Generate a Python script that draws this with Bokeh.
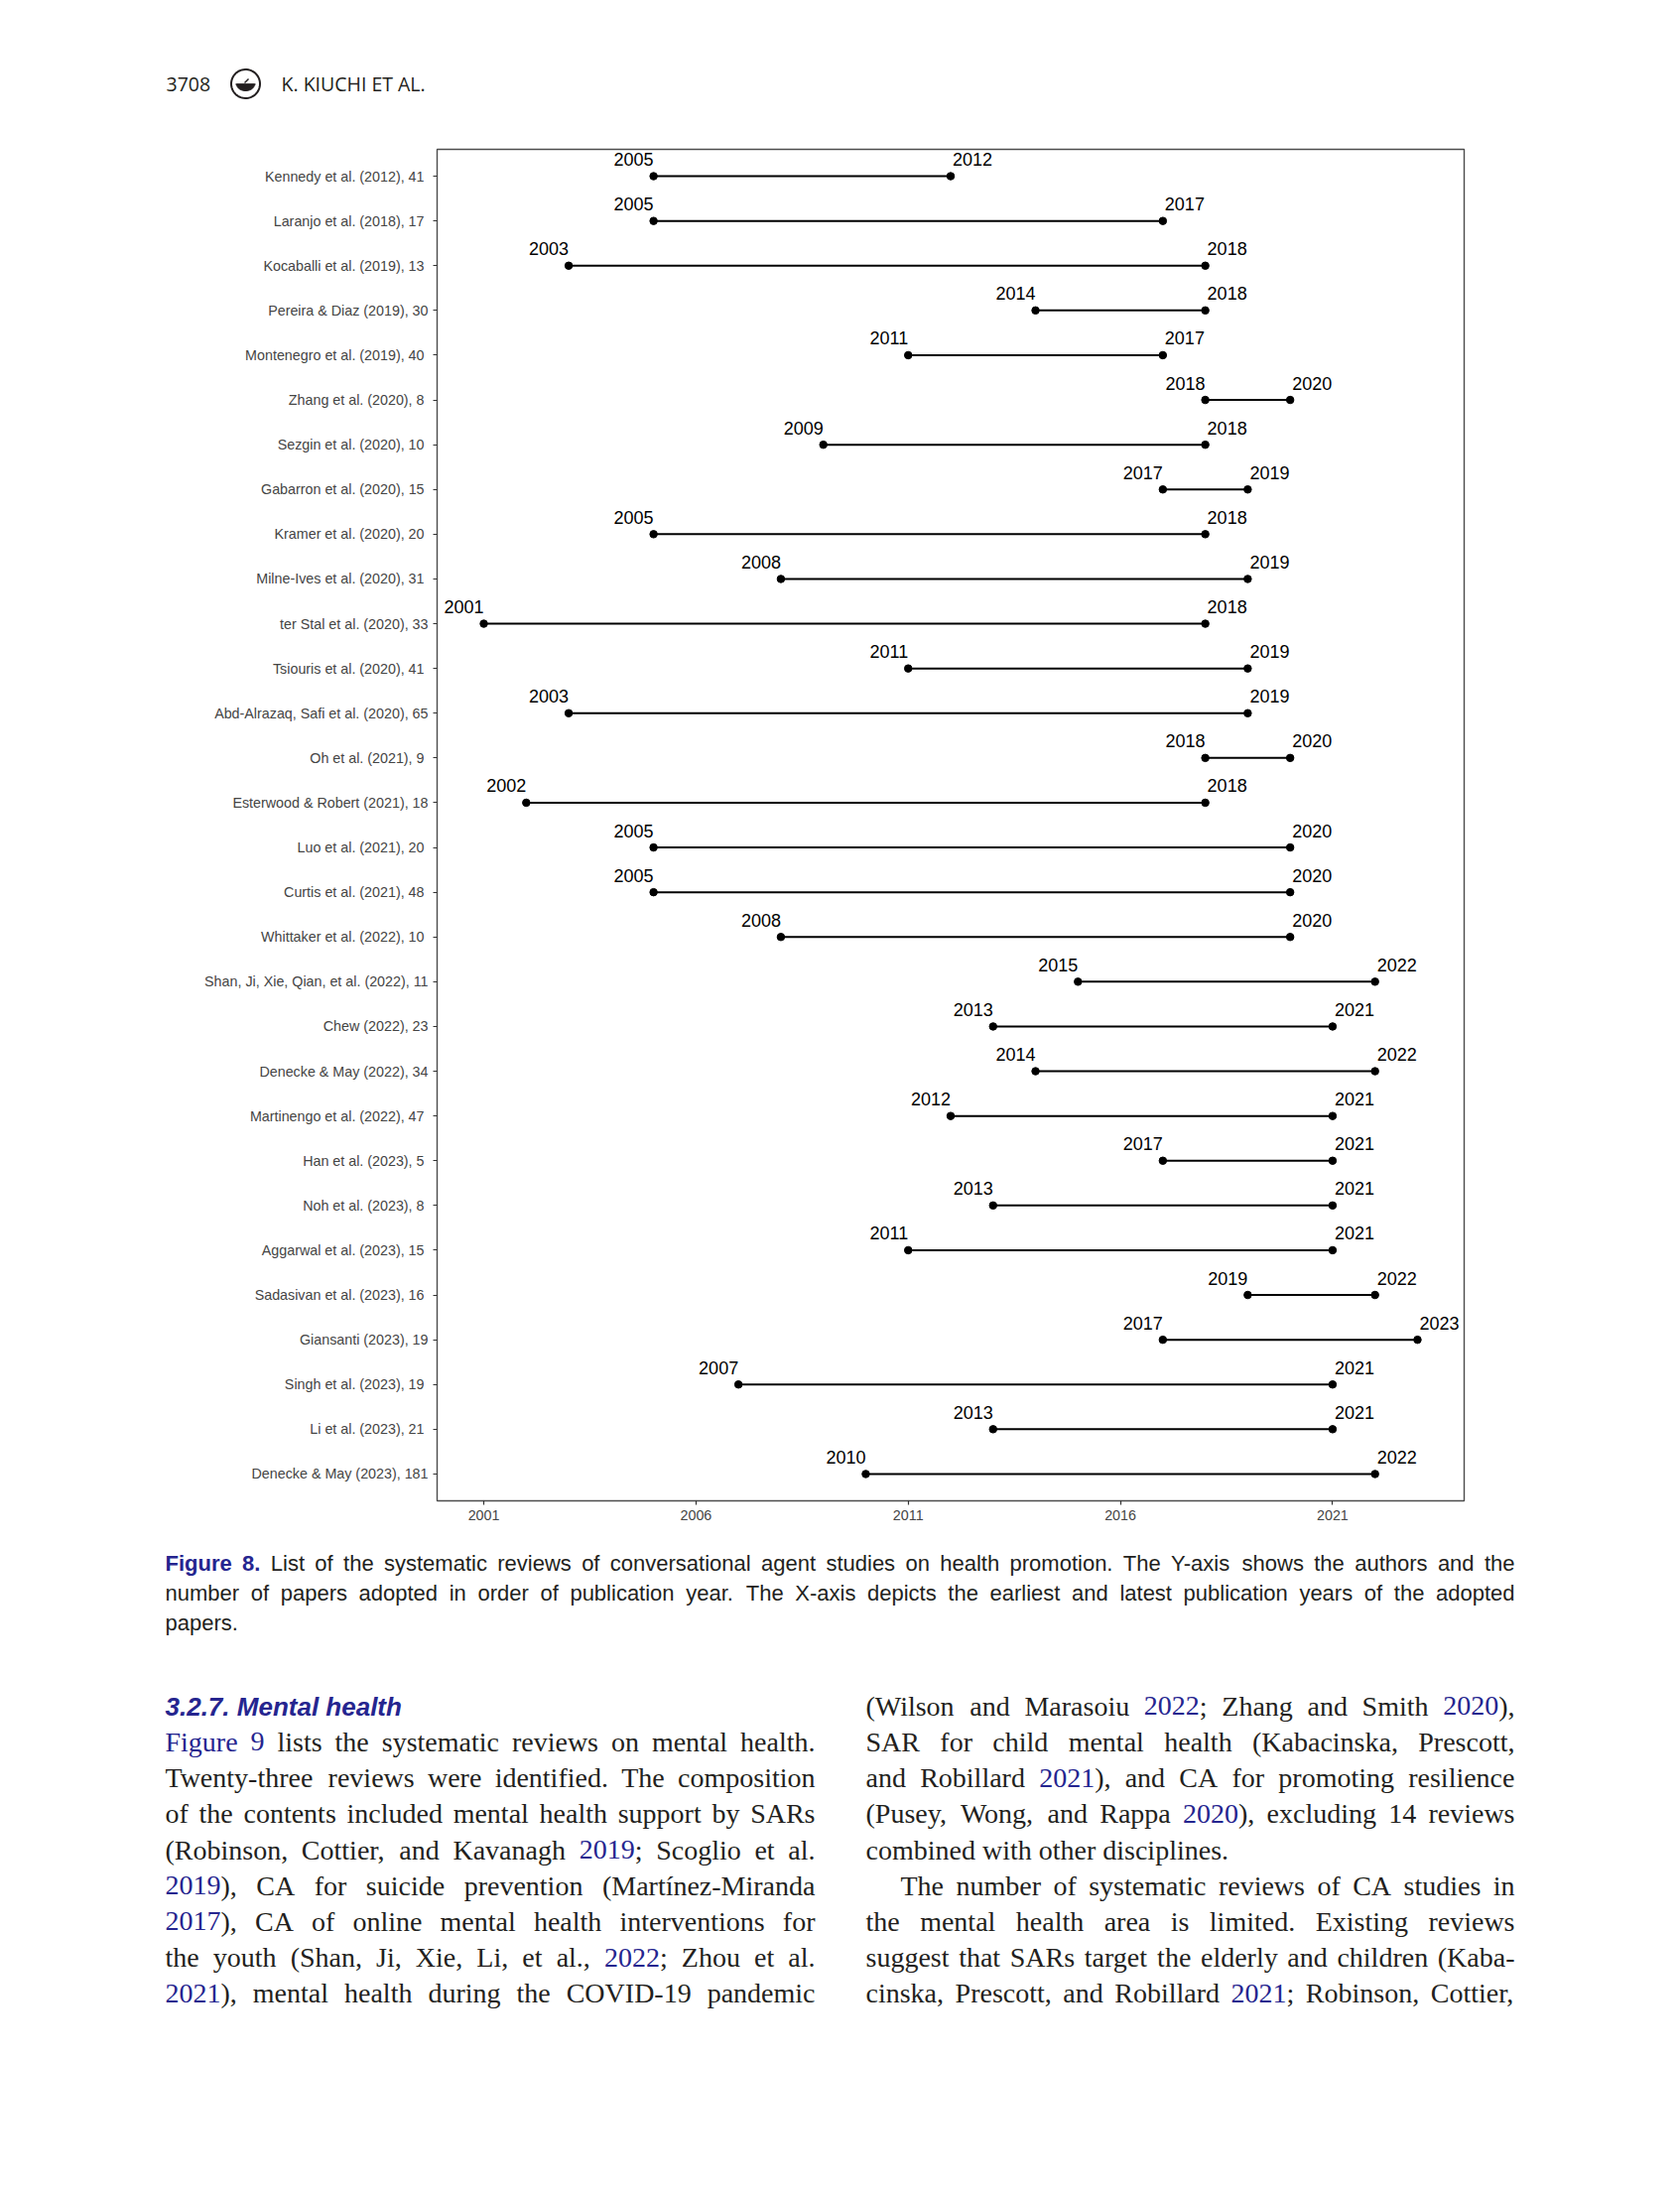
import numpy as np
from bokeh.plotting import figure
from bokeh.models import Range1d, FixedTicker, ColumnDataSource
from bokeh.embed import file_html
from bokeh.resources import INLINE
from bokeh.core.properties import value

# ---------------- data ----------------
LABELS = [
    "Kennedy  et al. (2012), 41",
    "Laranjo  et al. (2018), 17",
    "Kocaballi  et al. (2019), 13",
    "Pereira & Diaz (2019), 30",
    "Montenegro  et al. (2019), 40",
    "Zhang  et al. (2020), 8",
    "Sezgin  et al. (2020), 10",
    "Gabarron  et al. (2020), 15",
    "Kramer  et al. (2020), 20",
    "Milne-Ives  et al. (2020), 31",
    "ter Stal et al. (2020), 33",
    "Tsiouris  et al. (2020), 41",
    "Abd-Alrazaq, Safi et al. (2020), 65",
    "Oh  et al. (2021), 9",
    "Esterwood & Robert (2021), 18",
    "Luo  et al. (2021), 20",
    "Curtis  et al. (2021), 48",
    "Whittaker  et al. (2022), 10",
    "Shan, Ji, Xie, Qian, et al. (2022), 11",
    "Chew (2022), 23",
    "Denecke & May (2022), 34",
    "Martinengo  et al. (2022), 47",
    "Han  et al. (2023), 5",
    "Noh  et al. (2023), 8",
    "Aggarwal  et al. (2023), 15",
    "Sadasivan  et al. (2023), 16",
    "Giansanti (2023), 19",
    "Singh  et al. (2023), 19",
    "Li  et al. (2023), 21",
    "Denecke & May (2023), 181",
]
START = [2005, 2005, 2003, 2014, 2011, 2018, 2009, 2017, 2005, 2008,
         2001, 2011, 2003, 2018, 2002, 2005, 2005, 2008, 2015, 2013,
         2014, 2012, 2017, 2013, 2011, 2019, 2017, 2007, 2013, 2010]
END = [2012, 2017, 2018, 2018, 2017, 2020, 2018, 2019, 2018, 2019,
       2018, 2019, 2019, 2020, 2018, 2020, 2020, 2020, 2022, 2021,
       2022, 2021, 2021, 2021, 2021, 2022, 2023, 2021, 2021, 2022]
XTICKS = [2001, 2006, 2011, 2016, 2021]

HEADER_PAGE = "3708"
HEADER_AUTH = "K. KIUCHI ET AL."
CAPTION = [
    ("[Figure 8.] List of the systematic reviews of conversational agent studies on health promotion. The Y-axis shows the authors and the", True),
    ("number of papers adopted in order of publication year. The X-axis depicts the earliest and latest publication years of the adopted", True),
    ("papers.", False),
]
HEADING = "3.2.7. Mental health"
LEFT_COL = [
    ("{Figure 9} lists the systematic reviews on mental health.", True, 0),
    ("Twenty-three reviews were identified. The composition", True, 0),
    ("of the contents included mental health support by SARs", True, 0),
    ("(Robinson, Cottier, and Kavanagh {2019}; Scoglio et al.", True, 0),
    ("{2019}), CA for suicide prevention (Martínez-Miranda", True, 0),
    ("{2017}), CA of online mental health interventions for", True, 0),
    ("the youth (Shan, Ji, Xie, Li, et al., {2022}; Zhou et al.", True, 0),
    ("{2021}), mental health during the COVID-19 pandemic", True, 0),
]
RIGHT_COL = [
    ("(Wilson and Marasoiu {2022}; Zhang and Smith {2020}),", True, 0),
    ("SAR for child mental health (Kabacinska, Prescott,", True, 0),
    ("and Robillard {2021}), and CA for promoting resilience", True, 0),
    ("(Pusey, Wong, and Rappa {2020}), excluding 14 reviews", True, 0),
    ("combined with other disciplines.", False, 0),
    ("The number of systematic reviews of CA studies in", True, 35),
    ("the mental health area is limited. Existing reviews", True, 0),
    ("suggest that SARs target the elderly and children (Kaba-", True, 0),
    ("cinska, Prescott, and Robillard {2021}; Robinson, Cottier,", True, 0),
]

# ---------------- font metrics (per 1000 em) ----------------
TIMES = {' ': 250, '(': 333, ')': 333, ',': 250, '-': 333, '.': 250, ';': 278, ':': 278, 'í': 278}
for c in "0123456789":
    TIMES[c] = 500
TIMES.update(dict(zip("ABCDEFGHIJKLMNOPQRSTUVWXYZ",
                      [722, 667, 667, 722, 611, 556, 722, 722, 333, 389, 722, 611, 889,
                       722, 722, 556, 722, 667, 556, 611, 722, 722, 944, 722, 722, 611])))
TIMES.update(dict(zip("abcdefghijklmnopqrstuvwxyz",
                      [444, 500, 444, 500, 444, 333, 500, 500, 278, 278, 500, 278, 778,
                       500, 500, 500, 500, 333, 389, 278, 500, 500, 722, 500, 500, 444])))
HELV = {' ': 278, '(': 333, ')': 333, ',': 278, '-': 333, '.': 278, ';': 278, ':': 278}
for c in "0123456789":
    HELV[c] = 556
HELV.update(dict(zip("ABCDEFGHIJKLMNOPQRSTUVWXYZ",
                     [667, 667, 722, 722, 667, 611, 778, 722, 278, 500, 667, 556, 833,
                      722, 778, 667, 778, 722, 667, 611, 722, 667, 944, 667, 667, 611])))
HELV.update(dict(zip("abcdefghijklmnopqrstuvwxyz",
                     [556, 556, 500, 556, 556, 278, 556, 556, 222, 222, 500, 222, 833,
                      556, 556, 556, 556, 333, 500, 278, 556, 500, 722, 500, 500, 500])))
HELV_B = dict(HELV)
HELV_B.update({'F': 611, 'i': 278, 'g': 611, 'u': 611, 'r': 389, 'e': 556, '8': 556, '.': 278, ' ': 278})

INK = "#231f20"
BLUE = "#25258f"
LIFT = 0.33   # baseline correction, in em


def parse(line):
    """Return list of words; each word is list of (text, style)."""
    words, cur, seg, style = [], [], "", "n"
    for ch in line:
        if ch in "{[":
            if seg:
                cur.append((seg, style))
            seg = ""
            style = "b" if ch == "{" else "fb"
        elif ch in "}]":
            if seg:
                cur.append((seg, style))
            seg = ""
            style = "n"
        elif ch == " ":
            if seg:
                cur.append((seg, style))
            seg = ""
            if cur:
                words.append(cur)
            cur = []
        else:
            seg += ch
    if seg:
        cur.append((seg, style))
    if cur:
        words.append(cur)
    return words


def layout_line(line, x0, width, y, size, table, btable, justify, out):
    words = parse(line)

    def w_of(seg, st):
        tb = btable if st == "fb" else table
        return sum(tb.get(c, 500) for c in seg) * size / 1000.0
    wws = [sum(w_of(s, st) for s, st in w) for w in words]
    space = table[' '] * size / 1000.0
    if justify and len(words) > 1:
        gap = (width - sum(wws)) / (len(words) - 1)
    else:
        gap = space
    x = x0
    for w, ww in zip(words, wws):
        xs = x
        for s, st in w:
            out.setdefault(st, {"x": [], "y": [], "t": []})
            out[st]["x"].append(xs)
            out[st]["y"].append(y - LIFT * size)
            out[st]["t"].append(s)
            xs += w_of(s, st)
        x += ww + gap


# ---------------- chart (one figure = the whole page) ----------------
W, H = 1693, 2205
FL, FR, FT, FB = 440, 1475, 150, 1512   # panel edges on the page

n = len(LABELS)
rows = list(range(n))
src = ColumnDataSource(dict(
    row=rows, start=START, end=END,
    lab_y=[r_ - 0.377 for r_ in rows],
    s_lbl=[str(v) for v in START], e_lbl=[str(v) for v in END],
))
p = figure(width=W, height=H, x_range=Range1d(1999.9, 2024.1), y_range=Range1d(n - 1 + 0.6, -0.6),
           toolbar_location=None, output_backend="svg",
           min_border_left=FL, min_border_right=W - FR, min_border_top=FT, min_border_bottom=H - FB)
p.background_fill_color = "white"
p.border_fill_color = "white"
p.outline_line_color = "#4d4d4d"
p.outline_line_width = 1.4
p.xgrid.visible = False
p.ygrid.visible = False
p.segment(x0="start", y0="row", x1="end", y1="row", source=src, line_color="black", line_width=2)
p.scatter(x="start", y="row", source=src, size=7.5, color="black")
p.scatter(x="end", y="row", source=src, size=7.5, color="black")
p.text(x="start", y="lab_y", text="s_lbl", source=src, text_align="right", text_baseline="alphabetic",
       text_font=value("Liberation Sans"), text_font_size="18px", text_color="black")
p.text(x="end", y="lab_y", text="e_lbl", source=src, text_align="left", text_baseline="alphabetic",
       text_font=value("Liberation Sans"), text_font_size="18px", text_color="black", x_offset=2)

p.xaxis.ticker = FixedTicker(ticks=XTICKS)
p.xaxis.major_label_overrides = {v: str(v) for v in XTICKS}
p.yaxis.ticker = FixedTicker(ticks=rows)
p.yaxis.major_label_overrides = {i: lab for i, lab in enumerate(LABELS)}
for ax in (p.xaxis, p.yaxis):
    ax.major_label_text_font = "Liberation Sans"
    ax.major_label_text_font_size = "14.3px"
    ax.major_label_text_color = "#454545"
    ax.major_tick_out = 4
    ax.major_tick_in = 0
    ax.major_tick_line_color = "#333333"
    ax.major_tick_line_width = 1.2
    ax.minor_tick_line_color = None
    ax.axis_line_color = None
    ax.major_label_standoff = 5

# page-coordinate ranges for the surrounding page text
p.extra_x_ranges = {"px": Range1d(FL, FR)}
p.extra_y_ranges = {"py": Range1d(FB, FT)}
PG = dict(x_range_name="px", y_range_name="py", level="overlay")

# header
hy = 90.7 - LIFT * 19.5
p.text(x=[167], y=[hy], text=[HEADER_PAGE], text_font=value("Open Sans"),
       text_font_size="19.5px", text_baseline="alphabetic", text_align="left", text_color=INK, **PG)
p.text(x=[283], y=[hy], text=[HEADER_AUTH], text_font=value("Open Sans"),
       text_font_size="19.5px", text_baseline="alphabetic", text_align="left", text_color=INK, **PG)
cx, cy, r = 247.0, 84.0, 14.5
tt = np.linspace(0, 2 * np.pi, 60)
p.line(x=list(cx + r * np.cos(tt)), y=list(cy + r * np.sin(tt)), line_color=INK, line_width=2, **PG)
t = np.linspace(0, np.pi, 30)
p.patch(x=list(cx + 9 * np.cos(t)), y=list(cy + 0.5 + 6.5 * np.sin(t)), fill_color=INK, line_color=INK, **PG)
p.segment(x0=[cx - 10], y0=[cy + 0.5], x1=[cx + 10], y1=[cy + 0.5], line_color=INK, line_width=1.5, **PG)
p.segment(x0=[cx - 1], y0=[cy - 1], x1=[cx + 3], y1=[cy - 5], line_color=INK, line_width=1.5, **PG)

# caption
cap_out = {}
for i, (line, just) in enumerate(CAPTION):
    layout_line(line, 166, 1360, 1582.5 + 30 * i, 22, HELV, HELV_B, just, cap_out)
for st, d in cap_out.items():
    p.text(x=d["x"], y=d["y"], text=d["t"], text_align="left", text_baseline="alphabetic",
           text_font=value("Liberation Sans"), text_font_size="22px",
           text_font_style="bold" if st == "fb" else "normal",
           text_color=BLUE if st != "n" else INK, **PG)

p.text(x=[166], y=[1728 - LIFT * 26], text=[HEADING], text_align="left", text_baseline="alphabetic",
       text_font=value("Liberation Sans"), text_font_size="26px", text_font_style="bold italic",
       text_color=BLUE, **PG)

body_out = {}
base0, step = 1728.0, 36.2
for k, (line, just, ind) in enumerate(LEFT_COL):
    layout_line(line, 166 + ind, 655 - ind, base0 + step * (k + 1), 28, TIMES, TIMES, just, body_out)
for k, (line, just, ind) in enumerate(RIGHT_COL):
    layout_line(line, 872 + ind, 654 - ind, base0 + step * k, 28, TIMES, TIMES, just, body_out)
for st, d in body_out.items():
    p.text(x=d["x"], y=d["y"], text=d["t"], text_align="left", text_baseline="alphabetic",
           text_font=value("Liberation Serif"), text_font_size="28px",
           text_color=BLUE if st != "n" else INK, **PG)

open("out.html", "w").write(file_html(p, INLINE))
